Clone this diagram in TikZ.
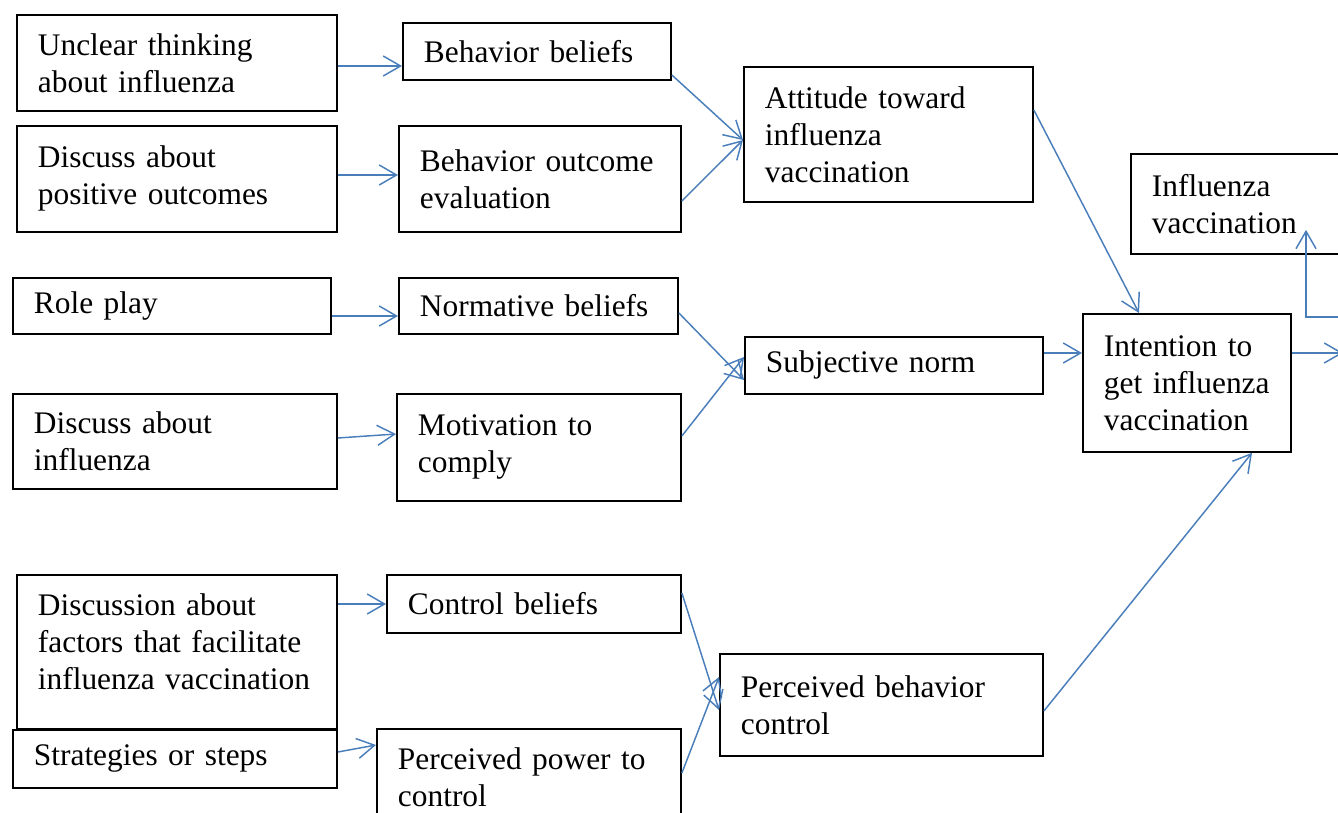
\documentclass[tikz,border=0pt]{standalone}
\usepackage{fontspec}
\setmainfont{Liberation Serif}
\usetikzlibrary{arrows.meta}
\hyphenpenalty=10000
\exhyphenpenalty=10000
\definecolor{arrblue}{RGB}{74,126,187}
\newcommand\diagfont{\fontsize{23.55pt}{27.75pt}\selectfont}
\tikzset{
  box/.style={draw=black, line width=1.4pt, anchor=north west, align=left,
    inner xsep=15.75pt, inner ysep=0pt, font=\diagfont},
  arr/.style={draw=arrblue, line width=1.1pt,
    -{Straight Barb[length=13pt,width=15pt,line width=1.1pt]}}
}
\begin{document}
\begin{tikzpicture}[x=0.75pt,y=-0.75pt]
\useasboundingbox (0,0) rectangle (1338,813);
\clip (0,0) rectangle (1338,813);
% boxes
\node[box, text width=208.5pt, minimum height=72pt] (unclear) at (16,14) {Unclear thinking\\about influenza};
\node[box, text width=169.5pt, minimum height=42.75pt] (bb) at (402,22) {Behavior beliefs};
\node[box, text width=208.5pt, minimum height=79.5pt] (dpos) at (16,125) {Discuss about\\positive outcomes};
\node[box, text width=180pt, minimum height=79.5pt] (boe) at (398,125) {Behavior outcome\\evaluation};
\node[box, text width=185.25pt, minimum height=101.25pt] (att) at (743,66) {Attitude toward\\influenza\\vaccination};
\node[box, text width=163.5pt, minimum height=75pt] (infv) at (1130,153) {Influenza\\vaccination};
\node[box, text width=207pt, minimum height=42pt] (role) at (12,277) {Role play};
\node[box, text width=177.75pt, minimum height=42pt] (norm) at (398,277) {Normative beliefs};
\node[box, text width=192pt, minimum height=42.75pt] (subj) at (744,336) {Subjective norm};
\node[box, text width=124.5pt, minimum height=103.5pt] (intent) at (1082,313) {Intention to\\get influenza\\vaccination};
\node[box, text width=211.5pt, minimum height=71.25pt] (dinf) at (12,393) {Discuss about\\influenza};
\node[box, text width=181.5pt, minimum height=80.25pt] (mot) at (396,393) {Motivation to\\comply};
\node[box, text width=208.5pt, minimum height=115.5pt] (dfac) at (16,574) {Discussion about\\factors that facilitate\\influenza vaccination\\[-13pt]\mbox{}};
\node[box, text width=189pt, minimum height=43.5pt] (cb) at (386,574) {Control beliefs};
\node[box, text width=211.5pt, minimum height=43.5pt] (strat) at (12,729) {Strategies or steps};
\node[box, text width=196.5pt, minimum height=72pt] (ppc) at (376,728) {Perceived power to\\control};
\node[box, text width=210.75pt, minimum height=76.5pt] (pbc) at (719,653) {Perceived behavior\\control};
% free ends
\coordinate (outR) at (1343,353);
\coordinate (inR) at (1345,317);
% arrows
\draw[arr] (unclear.east |- 0,66) -- (bb.west |- 0,66);
\draw[arr] (dpos.east |- 0,175) -- (boe.west |- 0,175);
\draw[arr] (role.east |- 0,316) -- (norm.west |- 0,316);
\draw[arr] (dinf.east |- 0,438) -- (mot.west |- 0,434);
\draw[arr] (dfac.east |- 0,604) -- (cb.west |- 0,604);
\draw[arr] (strat.east |- 0,752) -- (ppc.west |- 0,745);
\draw[arr] (bb.east |- 0,75) -- (att.west |- 0,140);
\draw[arr] (boe.east |- 0,201) -- (att.west |- 0,140);
\draw[arr] (norm.east |- 0,313) -- (subj.west |- 0,380);
\draw[arr] (mot.east |- 0,436) -- (subj.west |- 0,357);
\draw[arr] (cb.east |- 0,593) -- (pbc.west |- 0,710);
\draw[arr] (ppc.east |- 0,773) -- (pbc.west |- 0,677);
\draw[arr] (att.east |- 0,110) -- (intent.north -| 1139,0);
\draw[arr] (subj.east |- 0,353) -- (intent.west |- 0,353);
\draw[arr] (pbc.east |- 0,711) -- (intent.south -| 1252,0);
\draw[arr] (intent.east |- 0,353) -- (outR);
\draw[arr] (inR) -- (1306,317) -- (infv.south -| 1306,0) -- ++(0,-25);
\end{tikzpicture}
\end{document}
